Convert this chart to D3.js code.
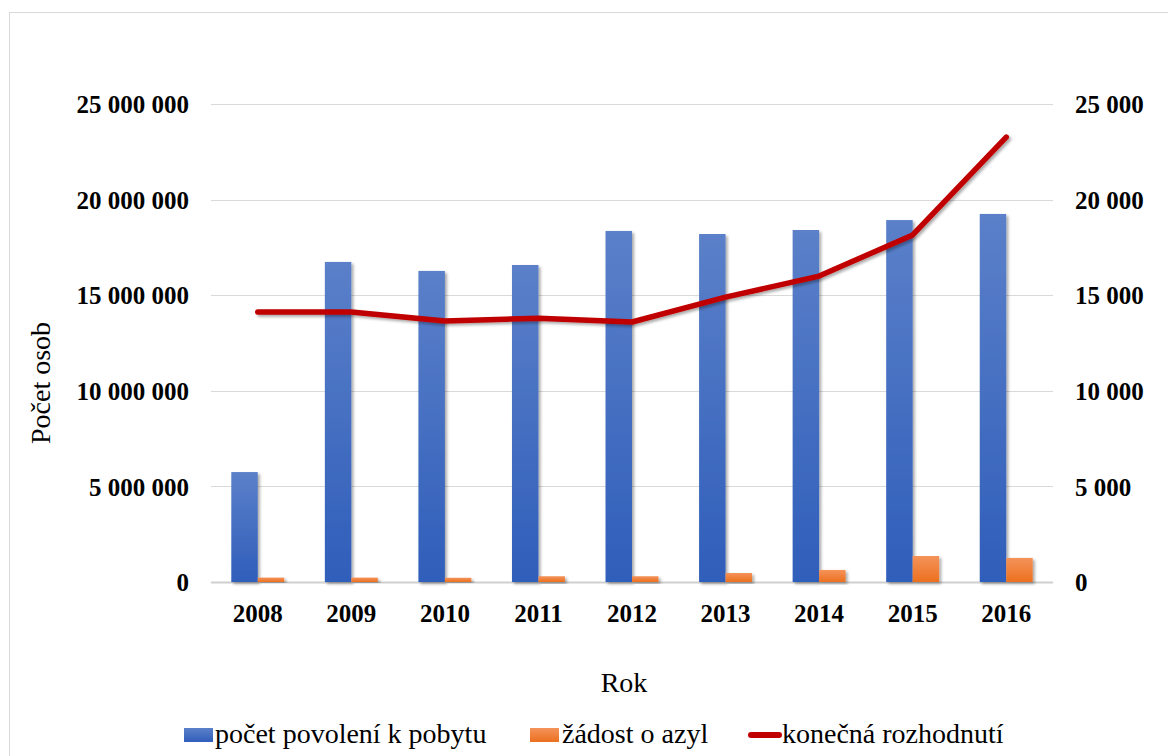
<!DOCTYPE html>
<html>
<head>
<meta charset="utf-8">
<script src="https://cdn.jsdelivr.net/npm/d3@7"></script>
<style>
  body { margin: 0; background: #fff; }
</style>
</head>
<body>
<div id="chart"></div>
<script>
// data
var years = ["2008", "2009", "2010", "2011", "2012", "2013", "2014", "2015", "2016"];
var permits = [5750000, 16740000, 16270000, 16580000, 18360000, 18200000, 18410000, 18930000, 19250000];
var asylum = [230, 230, 220, 300, 300, 470, 630, 1360, 1260];
var decisions = [14120, 14120, 13650, 13800, 13600, 14900, 16000, 18150, 23270];
var leftTicks = [0, 5000000, 10000000, 15000000, 20000000, 25000000];
var rightTicks = [0, 5000, 10000, 15000, 20000, 25000];
var seriesNames = ["počet povolení k pobytu", "žádost o azyl", "konečná rozhodnutí"];

var serif = "Liberation Serif";

var svgWidth = 1168;
var svgHeight = 756;
var margin = { top: 104, right: 115, bottom: 174, left: 211 };
var chartWidth = svgWidth - margin.left - margin.right;
var chartHeight = svgHeight - margin.top - margin.bottom;

var svg = d3.select("#chart")
  .append("svg")
  .attr("width", svgWidth)
  .attr("height", svgHeight);

// outer frame
svg.append("rect")
  .attr("x", 9.5).attr("y", 12.5)
  .attr("width", 1200).attr("height", 800)
  .attr("fill", "none")
  .attr("stroke", "#d9d9d9");

var defs = svg.append("defs");
var gBlue = defs.append("linearGradient").attr("id", "gBlue").attr("x1", 0).attr("y1", 0).attr("x2", 0).attr("y2", 1);
gBlue.append("stop").attr("offset", "0%").attr("stop-color", "#5b80c9");
gBlue.append("stop").attr("offset", "100%").attr("stop-color", "#2f5eba");
var gOrange = defs.append("linearGradient").attr("id", "gOrange").attr("x1", 0).attr("y1", 0).attr("x2", 0).attr("y2", 1);
gOrange.append("stop").attr("offset", "0%").attr("stop-color", "#f4935a");
gOrange.append("stop").attr("offset", "100%").attr("stop-color", "#ec701f");

var filter = defs.append("filter").attr("id", "shadow").attr("x", "-20%").attr("y", "-20%").attr("width", "140%").attr("height", "140%");
filter.append("feGaussianBlur").attr("in", "SourceAlpha").attr("stdDeviation", 1.5).attr("result", "blur");
filter.append("feOffset").attr("in", "blur").attr("dx", 1.5).attr("dy", 1.5).attr("result", "off");
filter.append("feComponentTransfer").attr("in", "off").attr("result", "offA")
  .append("feFuncA").attr("type", "linear").attr("slope", 0.35);
var merge = filter.append("feMerge");
merge.append("feMergeNode").attr("in", "offA");
merge.append("feMergeNode").attr("in", "SourceGraphic");

var chartGroup = svg.append("g")
  .attr("transform", `translate(${margin.left}, ${margin.top})`);

var x = d3.scaleBand().domain(years).range([0, chartWidth]).padding(0);
var yLeft = d3.scaleLinear().domain([0, 25000000]).range([chartHeight, 0]);
var yRight = d3.scaleLinear().domain([0, 25000]).range([chartHeight, 0]);

var fmt = function(v) { return d3.format(",")(v).replace(/,/g, " "); };

// gridlines
chartGroup.append("g")
  .selectAll("line")
  .data(leftTicks)
  .enter()
  .append("line")
  .attr("x1", 0).attr("x2", chartWidth)
  .attr("y1", d => Math.round(yLeft(d)) + 0.5)
  .attr("y2", d => Math.round(yLeft(d)) + 0.5)
  .attr("stroke", d => d === 0 ? "#d0d0d0" : "#d9d9d9")
  .attr("stroke-width", d => d === 0 ? 2 : 1);

// bars
var barW = x.bandwidth() * 0.283;
chartGroup.append("g")
  .selectAll("rect")
  .data(years)
  .enter()
  .append("rect")
  .attr("x", d => x(d) + x.bandwidth() / 2 - barW)
  .attr("y", (d, i) => yLeft(permits[i]))
  .attr("width", barW)
  .attr("height", (d, i) => chartHeight - yLeft(permits[i]))
  .attr("fill", "url(#gBlue)")
  .style("filter", "url(#shadow)");

chartGroup.append("g")
  .selectAll("rect")
  .data(years)
  .enter()
  .append("rect")
  .attr("x", d => x(d) + x.bandwidth() / 2)
  .attr("y", (d, i) => yRight(asylum[i]))
  .attr("width", barW)
  .attr("height", (d, i) => chartHeight - yRight(asylum[i]))
  .attr("fill", "url(#gOrange)")
  .style("filter", "url(#shadow)");

// line
var line = d3.line()
  .x((d, i) => x(years[i]) + x.bandwidth() / 2)
  .y(d => yRight(d));

chartGroup.append("path")
  .datum(decisions)
  .attr("d", line)
  .attr("fill", "none")
  .attr("stroke", "#c00000")
  .attr("stroke-width", 5.5)
  .attr("stroke-linecap", "round")
  .attr("stroke-linejoin", "round")
  .style("filter", "url(#shadow)");

// axes
var leftAxis = d3.axisLeft(yLeft).tickValues(leftTicks).tickFormat(fmt).tickSize(0).tickPadding(22);
var rightAxis = d3.axisRight(yRight).tickValues(rightTicks).tickFormat(fmt).tickSize(0).tickPadding(22);
var bottomAxis = d3.axisBottom(x).tickSize(0).tickPadding(0);

var la = chartGroup.append("g").call(leftAxis);
var ra = chartGroup.append("g").attr("transform", `translate(${chartWidth}, 0)`).call(rightAxis);
var ba = chartGroup.append("g").attr("transform", `translate(0, ${chartHeight})`).call(bottomAxis);

[la, ra, ba].forEach(function(a) {
  a.attr("font-family", serif).attr("font-size", 25);
  a.select(".domain").remove();
  a.selectAll("text")
    .attr("font-family", serif)
    .attr("font-size", 25)
    .attr("font-weight", "bold")
    .attr("fill", "#000");
});
la.selectAll("text").attr("dy", "0.35em");
ra.selectAll("text").attr("dy", "0.35em");
ba.selectAll("text").attr("y", 40).attr("dy", 0);

// axis titles
svg.append("text")
  .attr("transform", "translate(50, 383) rotate(-90)")
  .attr("text-anchor", "middle")
  .attr("font-family", serif)
  .attr("font-size", 28)
  .text("Počet osob");

svg.append("text")
  .attr("x", 624).attr("y", 692)
  .attr("text-anchor", "middle")
  .attr("font-family", serif)
  .attr("font-size", 28)
  .text("Rok");

// legend
var legendItems = [
  { x: 184, tx: 215, type: "blue" },
  { x: 530, tx: 562, type: "orange" },
  { x: 748, tx: 782, type: "line" }
];
legendItems.forEach(function(item, i) {
  var g = svg.append("g");
  if (item.type === "line") {
    g.append("line")
      .attr("x1", item.x + 3).attr("x2", item.x + 31)
      .attr("y1", 735).attr("y2", 735)
      .attr("stroke", "#c00000").attr("stroke-width", 6)
      .attr("stroke-linecap", "round");
  } else {
    g.append("rect")
      .attr("x", item.x).attr("y", 728)
      .attr("width", 29).attr("height", 14)
      .attr("fill", item.type === "blue" ? "url(#gBlue)" : "url(#gOrange)");
  }
  g.append("text")
    .attr("x", item.tx).attr("y", 743)
    .attr("font-family", serif)
    .attr("font-size", 28)
    .text(seriesNames[i]);
});
</script>
</body>
</html>
